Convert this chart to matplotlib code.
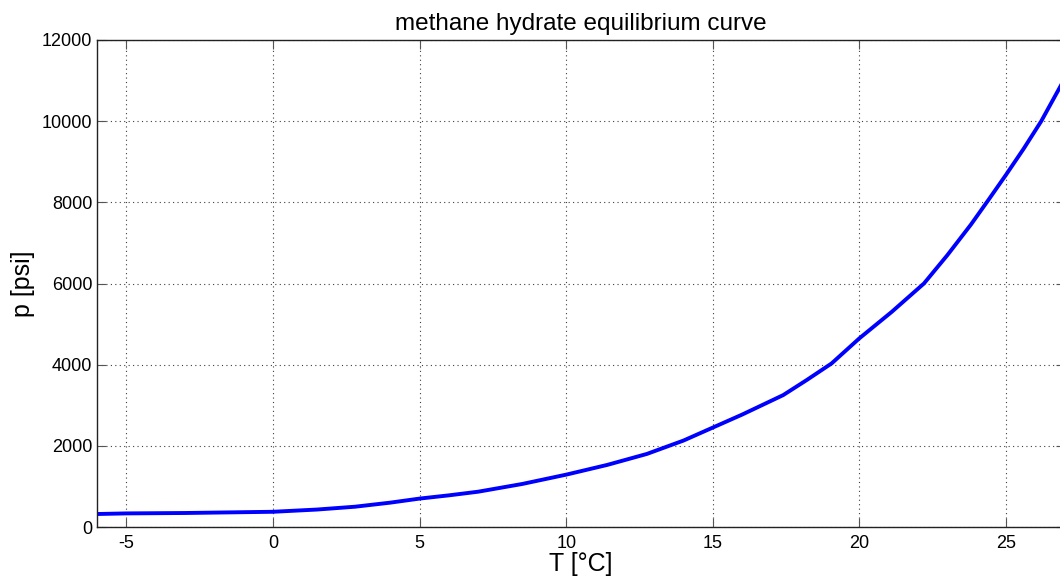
import matplotlib
matplotlib.use("Agg")
import matplotlib.pyplot as plt

# Data (temperature in °C, pressure in psi)
T_degC = [-6, -5, -3, 0, 1.5, 2.8, 4, 5, 6, 7, 8.5, 10, 11.4, 12.75, 14, 15, 16, 17.4, 18.2, 19.05, 20, 21.1, 22.2, 23, 23.8, 24.4, 25, 25.6, 26.2, 27]
p_psi = [320, 335, 345, 375, 430, 500, 600, 700, 780, 870, 1060, 1290, 1530, 1800, 2130, 2450, 2770, 3250, 3620, 4030, 4650, 5300, 6000, 6700, 7450, 8060, 8680, 9320, 10000, 11050]

x_ticks = [-5, 0, 5, 10, 15, 20, 25]
y_ticks = [0, 2000, 4000, 6000, 8000, 10000, 12000]

plt.rcParams['font.family'] = ['Liberation Sans', 'DejaVu Sans']

fig = plt.figure(figsize=(10.6, 5.77), dpi=100)
ax = fig.add_axes([97/1060, 1 - 527/577, (1064.7 - 97)/1060, (527 - 40)/577])

ax.plot(T_degC, p_psi, color=(0, 0, 1), linewidth=2.8, solid_joinstyle='round')

ax.set_xlim(-6, 27)
ax.set_ylim(0, 12000)
ax.set_xticks(x_ticks)
ax.set_yticks(y_ticks)
ax.set_xticklabels([str(v) for v in x_ticks])
ax.set_yticklabels([str(v) for v in y_ticks])

ax.grid(True, linestyle=(0, (1, 3)), color='#404040', linewidth=0.8)
ax.tick_params(direction='in', length=6.5, width=0.8, color='#555555',
               top=True, right=True, labelsize=13)
ax.tick_params(axis='x', pad=5.5)
ax.tick_params(axis='y', pad=3.5)
for s in ax.spines.values():
    s.set_linewidth(1.0)
    s.set_color('#222222')

ax.set_title('methane hydrate equilibrium curve', fontsize=17.5, pad=7)
ax.set_xlabel('T [°C]', fontsize=18, labelpad=0)
ax.set_ylabel('p [psi]', fontsize=18, labelpad=5)

fig.savefig('out.png', dpi=100)
